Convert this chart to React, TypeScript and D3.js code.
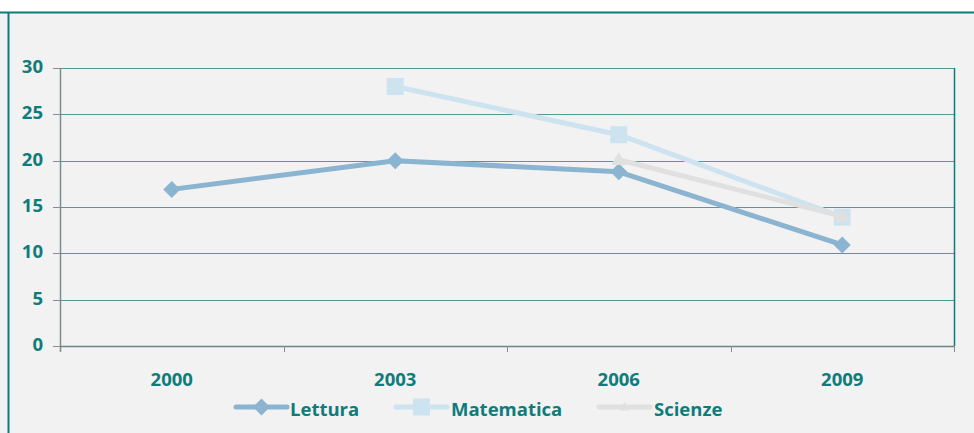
import React from "react";
import * as d3 from "d3";

const years = ["2000", "2003", "2006", "2009"];
const lettura: (number | null)[] = [16.9, 20.0, 18.8, 10.9];
const matematica: (number | null)[] = [null, 28.0, 22.8, 13.9];
const scienze: (number | null)[] = [null, null, 20.1, 14.0];
const yTicks = [0, 5, 10, 15, 20, 25, 30];

const W = 974, H = 433;
const M = { left: 60, right: 954, top: 68, bottom: 346 };
const TEAL = "#0e7c7b";
const FONT = "'Open Sans', Lato, sans-serif";
const FS = 18.5;

const series = [
  { name: "Lettura", values: lettura, color: "#8ab4cf", marker: "diamond" },
  { name: "Matematica", values: matematica, color: "#cde3f0", marker: "square" },
  { name: "Scienze", values: scienze, color: "#e0e0e0", marker: "triangle" },
];

function Marker({ type, x, y, color, small }: { type: string; x: number; y: number; color: string; small?: boolean }) {
  if (type === "diamond") {
    const s = 8.5;
    return <path d={`M${x},${y - s}L${x + s},${y}L${x},${y + s}L${x - s},${y}Z`} fill={color} />;
  }
  if (type === "square") {
    const s = 8.5;
    return <rect x={x - s} y={y - s} width={2 * s} height={2 * s} fill={color} />;
  }
  const s = small ? 5 : 7.5;
  return <path d={`M${x},${y - s}L${x + s},${y + s * 0.7}L${x - s},${y + s * 0.7}Z`} fill={color} />;
}

export default function App() {
  const x = d3.scaleBand<string>().domain(years).range([M.left, M.right]);
  const y = d3.scaleLinear().domain([0, 30]).range([M.bottom, M.top]);
  const cx = (d: string) => (x(d) as number) + x.bandwidth() / 2;
  const line = d3
    .line<[string, number | null]>()
    .defined((d) => d[1] != null)
    .x((d) => cx(d[0]))
    .y((d) => y(d[1] as number));

  const legendItems = [
    { lx: 236, tx: 290 },
    { lx: 396, tx: 451 },
    { lx: 599, tx: 654 },
  ];
  const legY = 407;

  return (
    <svg width={W} height={H} style={{ position: "absolute", left: 0, top: 0, display: "block" }}>
      <rect x={0} y={0} width={W} height={H} fill="#ffffff" />
      <rect x={0} y={12} width={W} height={H - 12} fill="#f2f2f2" />
      <line x1={0} x2={W} y1={12.5} y2={12.5} stroke={TEAL} strokeWidth={2} />
      <line x1={8.5} x2={8.5} y1={12} y2={H} stroke={TEAL} strokeWidth={2} />

      {yTicks.map((t) => (
        <g key={t}>
          {t > 0 && (
            <line x1={M.left} x2={M.right} y1={Math.round(y(t)) + 0.5} y2={Math.round(y(t)) + 0.5} stroke="#4f9c9c" strokeWidth={1} />
          )}
          <line x1={M.left - 7} x2={M.left} y1={Math.round(y(t)) + 0.5} y2={Math.round(y(t)) + 0.5} stroke="#8c8c8c" />
          <text x={43} y={y(t) + 5} textAnchor="end" fill={TEAL} fontFamily={FONT} fontWeight="bold" fontSize={FS}>
            {t}
          </text>
        </g>
      ))}
      <line x1={M.right + 0.5} x2={M.right + 0.5} y1={M.top} y2={M.bottom} stroke={TEAL} strokeWidth={1.5} />
      <line x1={M.left + 0.5} x2={M.left + 0.5} y1={M.top} y2={M.bottom + 6} stroke="#7f8c8c" strokeWidth={1.5} />
      <line x1={M.left} x2={M.right} y1={M.bottom + 0.5} y2={M.bottom + 0.5} stroke="#6f8585" strokeWidth={1.5} />
      {years.map((yr) => (
        <line key={"t" + yr} x1={Math.round((x(yr) as number) + x.bandwidth()) + 0.5} x2={Math.round((x(yr) as number) + x.bandwidth()) + 0.5} y1={M.bottom} y2={M.bottom + 6} stroke="#8c8c8c" />
      ))}
      {years.map((yr) => (
        <text key={yr} x={cx(yr)} y={386} textAnchor="middle" fill={TEAL} fontFamily={FONT} fontWeight="bold" fontSize={FS}>
          {yr}
        </text>
      ))}

      {series.map((s) => (
        <g key={s.name}>
          <path
            d={line(years.map((yr, i) => [yr, s.values[i]] as [string, number | null])) || ""}
            fill="none"
            stroke={s.color}
            strokeWidth={5}
            strokeLinejoin="round"
          />
          {years.map((yr, i) =>
            s.values[i] != null ? (
              <Marker key={yr} type={s.marker} x={cx(yr)} y={y(s.values[i] as number)} color={s.color} />
            ) : null
          )}
        </g>
      ))}

      {series.map((s, i) => {
        const it = legendItems[i];
        return (
          <g key={"l" + s.name}>
            <line x1={it.lx} x2={it.lx + 51} y1={legY} y2={legY} stroke={s.color} strokeWidth={5} strokeLinecap="round" />
            <Marker type={s.marker} x={it.lx + 25.5} y={legY} color={s.color} small />
            <text x={it.tx} y={416} fill={TEAL} fontFamily={FONT} fontWeight="bold" fontSize={FS}>
              {s.name}
            </text>
          </g>
        );
      })}
    </svg>
  );
}
